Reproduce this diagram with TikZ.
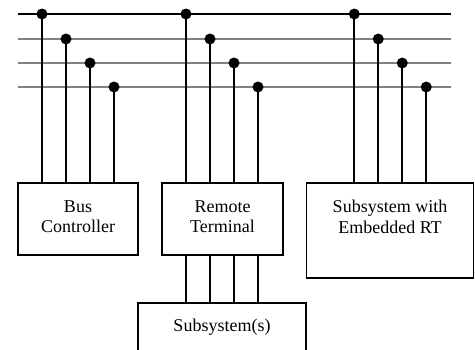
\documentclass[tikz,border=0pt]{standalone}
\usepackage{fontspec}
\setmainfont{Liberation Serif}
\definecolor{busgray}{RGB}{128,128,128}
\begin{document}
\begin{tikzpicture}[x=1pt,y=-1pt,
  box/.style={draw=black,line width=1.8pt,rectangle,inner sep=0pt},
  lbl/.style={anchor=north,inner sep=0pt,align=center,font=\fontsize{18}{20.5}\selectfont},
  mainbus/.style={draw=black,line width=2pt},
  auxbus/.style={draw=busgray,line width=1.8pt},
  stub/.style={draw=black,line width=1.8pt},
  tapdot/.style={fill=black}]
\useasboundingbox (0,0) rectangle (475,349);
\clip (0,0) rectangle (475,349);
% boxes
\node[box,minimum width=120pt,minimum height=72pt] (bc) at (78,219) {};
\node[box,minimum width=121pt,minimum height=72pt] (rt) at (222.5,219) {};
\node[box,minimum width=167pt,minimum height=95pt] (se) at (390,230.5) {};
\node[box,minimum width=168pt,minimum height=60pt] (ss) at (222,333) {};
% labels
\node[lbl] (bct) at (78,200.3) {Bus\\Controller};
\node[lbl] (rtt) at (222.5,200.3) {Remote\\Terminal};
\node[lbl] (set) at (390,200.3) {Subsystem with\\Embedded RT};
\node[lbl] (sst) at (222,318.5) {Subsystem(s)};
% bus lines
\coordinate (b0l) at (18,14);  \coordinate (b0r) at (451,14);
\coordinate (b1l) at (18,39);  \coordinate (b1r) at (451,39);
\coordinate (b2l) at (18,63);  \coordinate (b2r) at (451,63);
\coordinate (b3l) at (18,87);  \coordinate (b3r) at (451,87);
\draw[auxbus] (b1l) -- (b1r);
\draw[auxbus] (b2l) -- (b2r);
\draw[auxbus] (b3l) -- (b3r);
\draw[mainbus] (b0l) -- (b0r);
% taps
\foreach \bx/\bn in {42/bc,186/rt,354.3/se}{
  \coordinate (a\bn) at (\bx,14);
  \coordinate (b\bn) at (\bx+24,39);
  \coordinate (c\bn) at (\bx+48,63);
  \coordinate (d\bn) at (\bx+72,87);
  \foreach \t in {a,b,c,d}{
    \draw[stub] (\t\bn) -- (\t\bn |- \bn.north);
    \fill[tapdot] (\t\bn) circle (5.5pt);
  }
}
% RT to subsystems
\foreach \t in {a,b,c,d}{
  \draw[stub] (\t rt |- rt.south) -- (\t rt |- ss.north);
}
\end{tikzpicture}
\end{document}
